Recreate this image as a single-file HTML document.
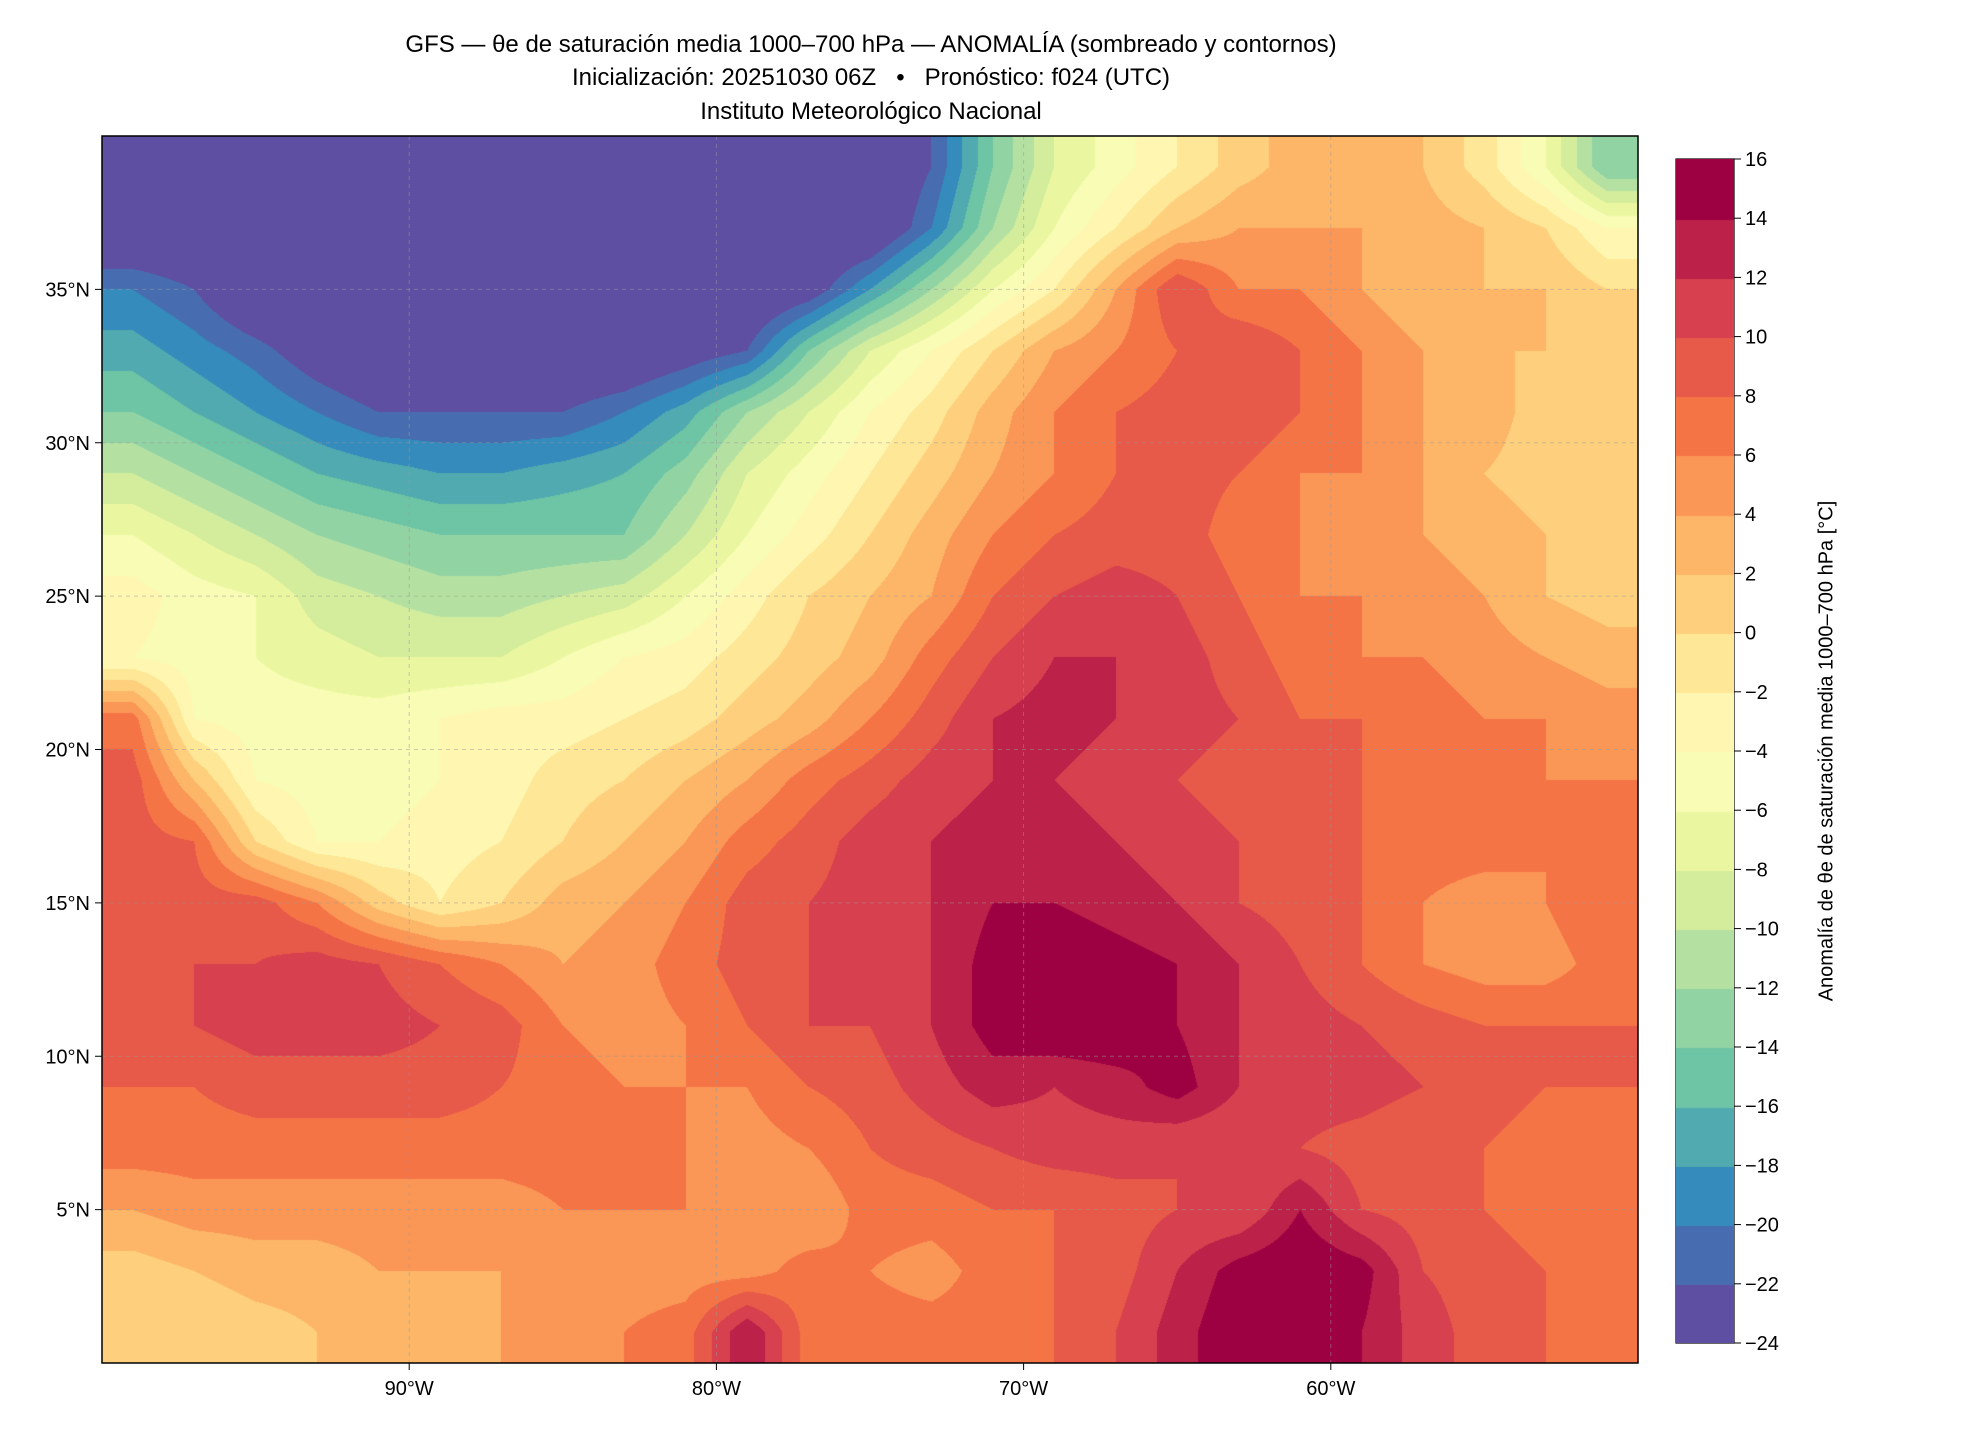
<!DOCTYPE html>
<html><head><meta charset="utf-8">
<style>
body{margin:0;background:#fff;font-family:"Liberation Sans","DejaVu Sans",sans-serif;}
#wrap{position:relative;width:1980px;height:1440px;overflow:hidden;background:#fff;}
.t{position:absolute;left:0;width:1742px;text-align:center;font-size:24px;color:#000;line-height:28px;}
.lab{position:absolute;font-size:20px;color:#000;}
</style></head><body>
<div id="wrap">
<div class="t" style="top:31px">GFS — θe de saturación media 1000–700 hPa — ANOMALÍA (sombreado y contornos)</div>
<div class="t" style="top:64px">Inicialización: 20251030 06Z &nbsp; • &nbsp; Pronóstico: f024 (UTC)</div>
<div class="t" style="top:98px">Instituto Meteorológico Nacional</div>
<canvas id="map" width="1536" height="1227" style="position:absolute;left:102px;top:136px"></canvas>
<svg id="ov" width="1980" height="1440" style="position:absolute;left:0;top:0"></svg>
<canvas id="cb" width="58" height="1184" style="position:absolute;left:1676px;top:159px"></canvas>
<div class="lab" style="left:1827px;top:751px;transform:translate(-50%,-50%) rotate(-90deg);white-space:nowrap">Anomalía de θe de saturación media 1000–700 hPa [°C]</div>
</div>
<script>
const lons=[-99,-97,-95,-93,-91,-89,-87,-85,-83,-81,-79,-77,-75,-73,-71,-69,-67,-65,-63,-61,-59,-57,-55,-53,-51];
const lats=[39,37,35,33,31,29,27,25,23,21,19,17,15,13,11,9,7,5,3,1];
const levels=[-24,-22,-20,-18,-16,-14,-12,-10,-8,-6,-4,-2,0,2,4,6,8,10,12,14,16];
const lonTicks=[-90,-80,-70,-60];
const lonTickLabels=["90°W","80°W","70°W","60°W"];
const latTicks=[35,30,25,20,15,10,5];
const latTickLabels=["35°N","30°N","25°N","20°N","15°N","10°N","5°N"];
const row39=[-26,-26,-26,-26,-26,-26,-26,-26,-26,-26,-26,-26,-26,-22,-14,-8,-5,-2,1,3,4,2,-1,-6,-14];
const row37=[-26,-26,-26,-26,-26,-26,-26,-26,-26,-26,-26,-26,-26,-20,-12,-6,-2,2,4,4,4,3,2,0,-4];
const row35=[-20,-22,-26,-26,-26,-26,-26,-26,-26,-26,-26,-24,-18,-12,-6,-2,4,10,6,6,4,2,2,2,0];
const row33=[-17,-19,-21,-24,-26,-26,-26,-26,-26,-24,-22,-14,-8,-4,0,4,6,8,10,8,6,4,2,2,2];
const row31=[-14,-16,-18,-20,-22,-22,-22,-22,-20,-17,-12,-8,-4,-1,3,6,8,9,10,8,6,4,3,1,0];
const row29=[-10,-12,-14,-16,-17,-18,-18,-17,-16,-13,-8,-5,-2,1,4,6,8,9,8,6,6,4,2,1,1];
const row27=[-6,-8,-10,-12,-13,-14,-14,-14,-14,-10,-6,-3,0,3,6,8,9,9,7,6,5,4,3,2,1];
const row25=[-3,-5,-6,-9,-10,-11,-11,-10,-9,-6,-3,0,2,4,8,10,11,10,8,6,6,5,4,2,1];
const row23=[-4,-5,-6,-7,-8,-8,-8,-6,-4,-3,-1,1,3,7,10,12,12,11,9,7,6,6,5,4,3];
const row21=[7,-4,-5,-5,-5,-4,-3,-3,-2,-1,1,3,6,9,12,13,12,11,10,8,8,7,6,6,5];
const row19=[9,2,-4,-5,-5,-4,-3,-1,0,2,4,7,9,11,12,12,11,10,9,9,8,7,7,6,6];
const row17=[9,8,0,-4,-4,-3,-2,0,2,4,7,9,11,12,13,13,12,11,10,9,8,7,7,6,8];
const row15=[9,9,9,6,1,-2,0,3,4,6,9,10,11,12,14,14,13,12,10,9,8,6,5,6,8];
const row13=[9,10,10,11,10,8,6,4,5,7,9,10,11,12,15,16,15,14,12,10,8,6,5,5,7];
const row11=[9,10,11,11,11,10,9,6,5,6,8,10,10,12,15,16,16,14,12,11,10,9,8,8,8];
const row9=[8,8,9,9,9,9,8,7,6,6,6,8,9,11,13,12,13,15,12,11,11,10,9,8,8];
const row7=[7,7,7,7,7,7,7,7,7,6,5,6,8,9,10,11,11,10,10,10,9,8,8,7,7];
const row5=[4,5,5,5,5,5,5,6,6,6,5,4,7,7,8,8,9,10,10,14,10,9,8,7,7];
const row3=[1,2,3,3,4,4,4,5,5,5,5,7,6,5,7,8,9,12,15,16,15,10,9,8,7];
const row1=[1,0,1,2,2,3,4,5,6,7,14,7,7,7,7,8,10,13,16,16,14,11,9,8,8];
const grid=[row39,row37,row35,row33,row31,row29,row27,row25,row23,row21,row19,row17,row15,row13,row11,row9,row7,row5,row3,row1];

const PL=102,PT=136,PW=1536,PH=1227,LON0=-100,LON1=-50,LAT0=0,LAT1=40;
const xOf=lon=>PL+(lon-LON0)/(LON1-LON0)*PW;
const yOf=lat=>PT+(LAT1-lat)/(LAT1-LAT0)*PH;

const anchors=["#5e4fa2","#3288bd","#66c2a5","#abdda4","#e6f598","#ffffbf","#fee08b","#fdae61","#f46d43","#d53e4f","#9e0142"];
function hex(h){return [parseInt(h.slice(1,3),16),parseInt(h.slice(3,5),16),parseInt(h.slice(5,7),16)];}
function cmap(t){t=Math.max(0,Math.min(1,t));const s=t*10,i=Math.min(9,Math.floor(s)),f=s-i;const a=hex(anchors[i]),b=hex(anchors[i+1]);return [0,1,2].map(k=>Math.round(a[k]+(b[k]-a[k])*f));}
const nb=levels.length-1;
const binCols=[];for(let i=0;i<nb;i++)binCols.push(cmap(i/(nb-1)));
function bin(v){let i=Math.floor((v-levels[0])/2);return Math.max(0,Math.min(nb-1,i));}

const c=document.getElementById('map'),ctx=c.getContext('2d');
const img=ctx.createImageData(PW,PH);
const nr=lats.length,nc=lons.length;
for(let py=0;py<PH;py++){
  const lat=LAT1-(py+0.5)/PH*(LAT1-LAT0);
  let fr=(lats[0]-lat)/2;fr=Math.max(0,Math.min(nr-1.0001,fr));const r0=Math.floor(fr),ry=fr-r0;
  for(let px=0;px<PW;px++){
    const lon=LON0+(px+0.5)/PW*(LON1-LON0);
    let fc=(lon-lons[0])/2;fc=Math.max(0,Math.min(nc-1.0001,fc));const c0=Math.floor(fc),cx=fc-c0;
    const v=(grid[r0][c0]*(1-cx)+grid[r0][c0+1]*cx)*(1-ry)+(grid[r0+1][c0]*(1-cx)+grid[r0+1][c0+1]*cx)*ry;
    const col=binCols[bin(v)];const o=(py*PW+px)*4;
    img.data[o]=col[0];img.data[o+1]=col[1];img.data[o+2]=col[2];img.data[o+3]=255;
  }
}
ctx.putImageData(img,0,0);

const cb=document.getElementById('cb'),cc=cb.getContext('2d');
const CBL=1676,CBT=159,CBW=58,CBH=1184;
for(let i=0;i<nb;i++){const col=binCols[i];cc.fillStyle=`rgb(${col[0]},${col[1]},${col[2]})`;
  const y0=CBH*(1-(i+1)/nb),y1=CBH*(1-i/nb);cc.fillRect(0,Math.floor(y0),CBW,Math.ceil(y1-y0)+1);}

const NS="http://www.w3.org/2000/svg",ov=document.getElementById('ov');
function el(tag,attrs){const e=document.createElementNS(NS,tag);for(const k in attrs)e.setAttribute(k,attrs[k]);ov.appendChild(e);return e;}
lonTicks.forEach((lo,i)=>{
  const g=el('line',{x1:xOf(lo),x2:xOf(lo),y1:PT,y2:PT+PH,stroke:'#999','stroke-opacity':0.5,'stroke-dasharray':'4,4','stroke-width':1});
  
  
  const t=el('line',{x1:xOf(lo),x2:xOf(lo),y1:PT+PH,y2:PT+PH+7,stroke:'#000','stroke-width':1});
  
  
  const tx=el('text',{x:xOf(lo),y:PT+PH+32,'text-anchor':'middle','font-size':20,'font-family':'Liberation Sans, sans-serif'});
  tx.textContent=lonTickLabels[i];
  
  
});
latTicks.forEach((la,i)=>{
  const g=el('line',{x1:PL,x2:PL+PW,y1:yOf(la),y2:yOf(la),stroke:'#999','stroke-opacity':0.5,'stroke-dasharray':'4,4','stroke-width':1});
  
  
  const t=el('line',{x1:PL-7,x2:PL,y1:yOf(la),y2:yOf(la),stroke:'#000','stroke-width':1});
  
  
  const tx=el('text',{x:PL-12,y:yOf(la)+7,'text-anchor':'end','font-size':20,'font-family':'Liberation Sans, sans-serif'});
  tx.textContent=latTickLabels[i];
  
  
});
const fr=el('rect',{x:PL,y:PT,width:PW,height:PH,fill:'none',stroke:'#000','stroke-width':1.5});


const cf=el('rect',{x:CBL,y:CBT,width:CBW,height:CBH,fill:'none',stroke:'#000','stroke-width':1.2});


levels.forEach((lv,i)=>{
  const y=CBT+CBH*(1-i/nb);
  const t=el('line',{x1:CBL+CBW,x2:CBL+CBW+7,y1:y,y2:y,stroke:'#000','stroke-width':1});
  
  
  const tx=el('text',{x:CBL+CBW+11,y:y+7,'font-size':20,'font-family':'Liberation Sans, sans-serif'});
  tx.textContent=(lv<0?'\u2212'+(-lv):''+lv);
  
  
});
</script>
</body></html>
